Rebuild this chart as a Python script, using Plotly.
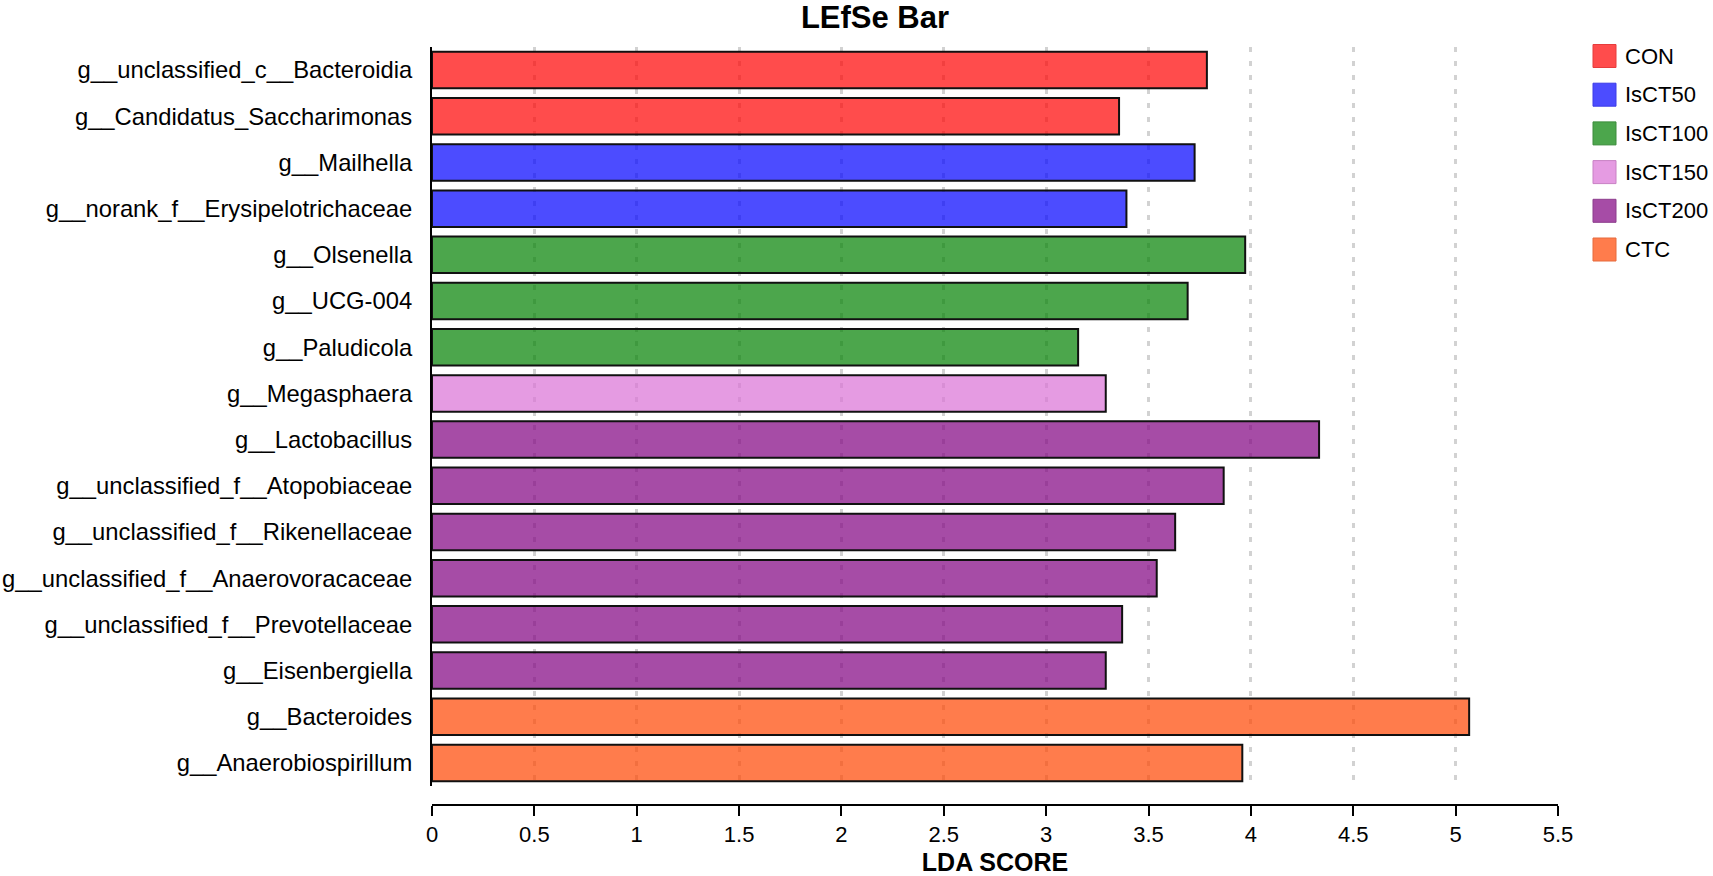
import plotly.graph_objects as go

# ---------------- data ----------------
labels = [
    "g__unclassified_c__Bacteroidia",
    "g__Candidatus_Saccharimonas",
    "g__Mailhella",
    "g__norank_f__Erysipelotrichaceae",
    "g__Olsenella",
    "g__UCG-004",
    "g__Paludicola",
    "g__Megasphaera",
    "g__Lactobacillus",
    "g__unclassified_f__Atopobiaceae",
    "g__unclassified_f__Rikenellaceae",
    "g__unclassified_f__Anaerovoracaceae",
    "g__unclassified_f__Prevotellaceae",
    "g__Eisenbergiella",
    "g__Bacteroides",
    "g__Anaerobiospirillum",
]
lda_scores = [3.785, 3.356, 3.725, 3.392, 3.972, 3.691, 3.156, 3.291,
              4.333, 3.867, 3.630, 3.540, 3.371, 3.291, 5.066, 3.958]
groups = ["CON", "CON", "IsCT50", "IsCT50", "IsCT100", "IsCT100", "IsCT100",
          "IsCT150", "IsCT200", "IsCT200", "IsCT200", "IsCT200", "IsCT200",
          "IsCT200", "CTC", "CTC"]
group_names = ["CON", "IsCT50", "IsCT100", "IsCT150", "IsCT200", "CTC"]
group_colors = ["rgba(255,0,0,0.7)", "rgba(0,0,255,0.7)", "rgba(0,128,0,0.7)",
                "rgba(218,112,214,0.7)", "rgba(128,0,128,0.7)", "rgba(255,69,0,0.7)"]
group_edge = ["#E63C3C", "#3C3CE6", "#3C8C3C", "#C880C4", "#8C3C8C", "#E66A3C"]
x_ticks = [0, 0.5, 1, 1.5, 2, 2.5, 3, 3.5, 4, 4.5, 5, 5.5]
x_tick_text = ["0", "0.5", "1", "1.5", "2", "2.5", "3", "3.5", "4", "4.5", "5", "5.5"]

# ---------------- geometry (pixels) ----------------
W, H = 1713, 876
L, R, T, B = 432, 1558, 47, 805
FONT = "Liberation Sans, Arial, Helvetica, sans-serif"


def px_x(p):
    return (p - L) / (R - L)


def px_y(p):
    return (B - p) / (B - T)


fig = go.Figure()
for name, color in zip(group_names, group_colors):
    ys = [lab for lab, g in zip(labels, groups) if g == name]
    xs = [v for v, g in zip(lda_scores, groups) if g == name]
    fig.add_trace(go.Bar(
        x=xs, y=ys, orientation="h", name=name,
        marker=dict(color=color, line=dict(color="#111111", width=2)),
        showlegend=False,
        hovertemplate="%{y}: %{x}<extra>" + name + "</extra>",
    ))

# manual legend (large square keys)
legend_top = 56
legend_pitch = 38.7
for i, (name, color, edge) in enumerate(zip(group_names, group_colors, group_edge)):
    cy = legend_top + i * legend_pitch
    fig.add_shape(type="rect", xref="paper", yref="paper",
                  x0=px_x(1593), x1=px_x(1616), y0=px_y(cy - 11.5), y1=px_y(cy + 11.5),
                  fillcolor=color, line=dict(color=edge, width=1))
    fig.add_annotation(xref="paper", yref="paper", x=px_x(1623), y=px_y(cy),
                       xanchor="left", yanchor="middle", text=name, showarrow=False,
                       font=dict(family=FONT, size=22, color="black"))

fig.update_layout(
    width=W, height=H, autosize=False,
    margin=dict(l=L, r=W - R, t=T, b=H - B, pad=0),
    paper_bgcolor="white", plot_bgcolor="white",
    barmode="overlay", bargap=0.21,
    font=dict(family=FONT, color="black"),
    title=dict(text="<b>LEfSe Bar</b>", xref="paper", x=px_x(875), xanchor="center",
               yref="container", y=1 - 17.5 / H, yanchor="middle",
               font=dict(family=FONT, size=31, color="black")),
)

fig.update_xaxes(
    range=[0, 5.5], tickmode="array", tickvals=x_ticks, ticktext=x_tick_text,
    showline=True, linecolor="black", linewidth=2,
    ticks="outside", ticklen=10, tickwidth=2, tickcolor="black",
    tickfont=dict(family=FONT, size=22, color="black"),
    showgrid=True, gridcolor="#D2D2D2", gridwidth=3, griddash="5px,9px",
    zeroline=False, anchor="free", position=0, automargin=False,
    title=dict(text="<b>LDA SCORE</b>", standoff=8,
               font=dict(family=FONT, size=25, color="black")),
)
fig.update_yaxes(
    type="category", categoryorder="array", categoryarray=labels,
    range=[len(labels) - 0.5, -0.5], domain=[px_y(786), 1],
    showline=True, linecolor="black", linewidth=2, automargin=False,
    ticks="", showgrid=False, zeroline=False, ticklabelstandoff=13,
    tickfont=dict(family=FONT, size=23.8, color="black"),
)

fig.write_html(
    "out.html",
    config={"displayModeBar": False},
    post_script="document.body.style.margin='0';document.body.style.overflow='hidden';",
)
